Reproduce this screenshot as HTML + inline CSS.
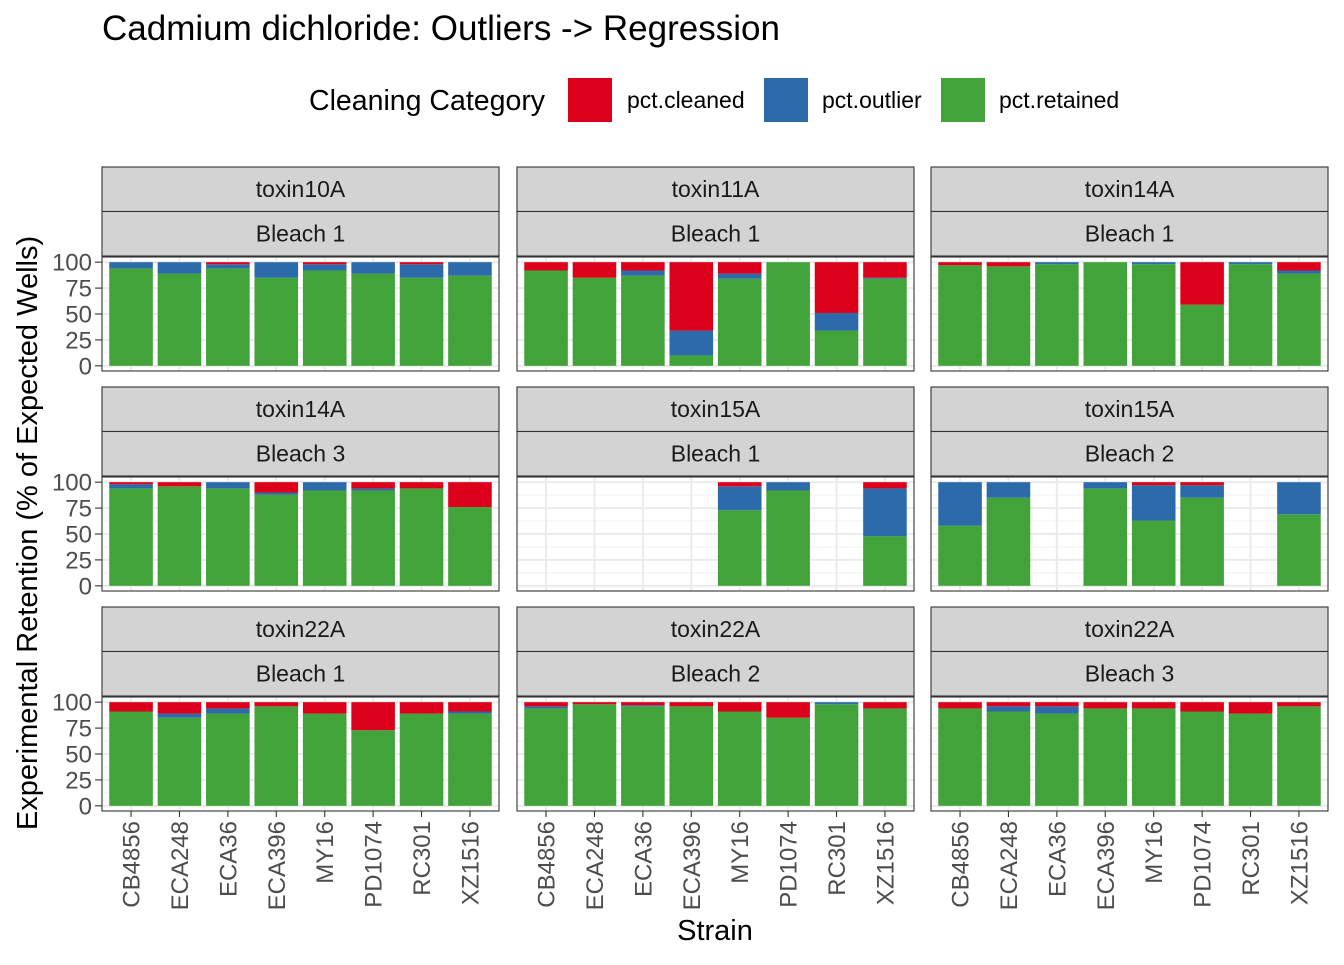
<!DOCTYPE html>
<html><head><meta charset="utf-8"><style>
body{margin:0;background:#fff;}
svg text{font-family:"Liberation Sans",Arial,sans-serif;}
</style></head><body>
<svg id="chart" width="1344" height="960" xmlns="http://www.w3.org/2000/svg">
<text x="102" y="40" font-size="35" fill="#000">Cadmium dichloride: Outliers -&gt; Regression</text>
<g>
<text x="309" y="110" font-size="28.5" fill="#000">Cleaning Category</text>
<rect x="568" y="78" width="44" height="44" fill="#dc001b"/>
<text x="627" y="108" font-size="23">pct.cleaned</text>
<rect x="764" y="78" width="44" height="44" fill="#2c6aa9"/>
<text x="822" y="108" font-size="23">pct.outlier</text>
<rect x="941" y="78" width="44" height="44" fill="#41a33a"/>
<text x="999" y="108" font-size="23">pct.retained</text>
</g>
<text transform="translate(37,533) rotate(-90)" text-anchor="middle" font-size="29">Experimental Retention (% of Expected Wells)</text>
<text x="715" y="940" text-anchor="middle" font-size="29">Strain</text>
</svg>
<script>
const strains=["CB4856","ECA248","ECA36","ECA396","MY16","PD1074","RC301","XZ1516"];
const toxins=["toxin10A","toxin11A","toxin14A","toxin14A","toxin15A","toxin15A","toxin22A","toxin22A","toxin22A"];
const bleaches=["Bleach 1","Bleach 1","Bleach 1","Bleach 3","Bleach 1","Bleach 2","Bleach 1","Bleach 2","Bleach 3"];
const yTicks=[0,25,50,75,100];
const retained=[
[94,89,94,85,92,89,85,87],
[92,85,87,10,84,100,34,84],
[97,96,98,100,98,59,98,89],
[94,96,94,88,92,92,94,76],
[null,null,null,null,73,92,null,48],
[58,85,null,94,63,85,null,69],
[91,85,89,96,89,73,89,89],
[94,98,96,96,91,85,98,94],
[94,91,89,94,94,91,89,96]];
const outlier=[
[6,11,4,15,6,11,13,13],
[0,0,5,24,5,0,17,1],
[0,0,2,0,2,0,2,3],
[4,0,6,2,8,2,0,0],
[null,null,null,null,23,8,null,46],
[42,15,null,6,34,12,null,31],
[0,4,5,0,0,0,0,2],
[2,0,1,0,0,0,2,0],
[0,5,7,0,0,0,0,0]];
const cleaned=[
[0,0,2,0,2,0,2,0],
[8,15,8,66,11,0,49,15],
[3,4,0,0,0,41,0,8],
[2,4,0,10,0,6,6,24],
[null,null,null,null,4,0,null,6],
[0,0,null,0,3,3,null,0],
[9,11,6,4,11,27,11,9],
[4,2,3,4,9,15,0,6],
[6,4,4,6,6,9,11,4]];
const NS="http://www.w3.org/2000/svg";
const svg=document.getElementById("chart");
function mk(tag,attrs,parent){const e=document.createElementNS(NS,tag);for(const k in attrs)e.setAttribute(k,attrs[k]);(parent||svg).appendChild(e);return e;}
const colX=[102,517,931], panelW=397;
const rowTop=[167,387,607], stripH=44.5, plotH=114;
function xScale(px,i){return px+(i+1-0.4)*panelW/8.2;}
function yScale(pt,v){return pt+plotH-(v+5)*plotH/110;}
const bw=0.9*panelW/8.2;
for(let p=0;p<9;p++){
  const r=Math.floor(p/3),c=p%3;
  const px=colX[c], st=rowTop[r], pt=st+2*stripH+1;
  const g=mk("g",{});
  
  
  const s1=mk("rect",{x:px,y:st,width:panelW,height:stripH,fill:"#d3d3d3",stroke:"#333","stroke-width":1.1},g);
  
  
  const t1=mk("text",{x:px+panelW/2,y:st+30,"text-anchor":"middle","font-size":23,fill:"#1a1a1a"},g);t1.textContent=toxins[p];
  
  
  const s2=mk("rect",{x:px,y:st+stripH,width:panelW,height:stripH,fill:"#d3d3d3",stroke:"#333","stroke-width":1.1},g);
  
  
  const t2=mk("text",{x:px+panelW/2,y:st+stripH+30,"text-anchor":"middle","font-size":23,fill:"#1a1a1a"},g);t2.textContent=bleaches[p];
  
  
  mk("rect",{x:px,y:pt,width:panelW,height:plotH,fill:"#fff"},g);
  for(let v=12.5;v<100;v+=25){const y=yScale(pt,v);mk("line",{x1:px,x2:px+panelW,y1:y,y2:y,stroke:"#f0f0f0","stroke-width":1},g);}
  yTicks.forEach(v=>{const y=yScale(pt,v);mk("line",{x1:px,x2:px+panelW,y1:y,y2:y,stroke:"#ebebeb","stroke-width":2},g);});
  strains.forEach((s,i)=>{const x=xScale(px,i);mk("line",{x1:x,x2:x,y1:pt,y2:pt+plotH,stroke:"#ebebeb","stroke-width":2},g);});
  strains.forEach((s,i)=>{
    if(retained[p][i]==null)return;
    const x=xScale(px,i)-bw/2;
    let base=0;
    [[retained[p][i],"#41a33a","retained"],[outlier[p][i],"#2c6aa9","outlier"],[cleaned[p][i],"#dc001b","cleaned"]].forEach(([v,col,nm])=>{
      if(!v)return;
      const y1=yScale(pt,base+v),y0=yScale(pt,base);
      const b=mk("rect",{x:x,y:y1,width:bw,height:y0-y1,fill:col},g);
      
      
      base+=v;
    });
  });
  mk("rect",{x:px,y:pt,width:panelW,height:plotH,fill:"none",stroke:"#333","stroke-width":1.1},g);
  if(c===0){yTicks.forEach(v=>{const y=yScale(pt,v);mk("line",{x1:px-7,x2:px,y1:y,y2:y,stroke:"#333","stroke-width":1.1},g);
    const t=mk("text",{x:px-10,y:y+8.5,"text-anchor":"end","font-size":24,fill:"#4d4d4d"},g);t.textContent=v;
    
    });}
  if(r===2){strains.forEach((s,i)=>{const x=xScale(px,i);mk("line",{x1:x,x2:x,y1:pt+plotH,y2:pt+plotH+6,stroke:"#333","stroke-width":1.1},g);
    const t=mk("text",{transform:"translate("+(x+8.5)+","+(pt+plotH+10)+") rotate(-90)","text-anchor":"end","font-size":24,fill:"#4d4d4d"},g);t.textContent=s;
    
    });}
}
</script>
</body></html>
